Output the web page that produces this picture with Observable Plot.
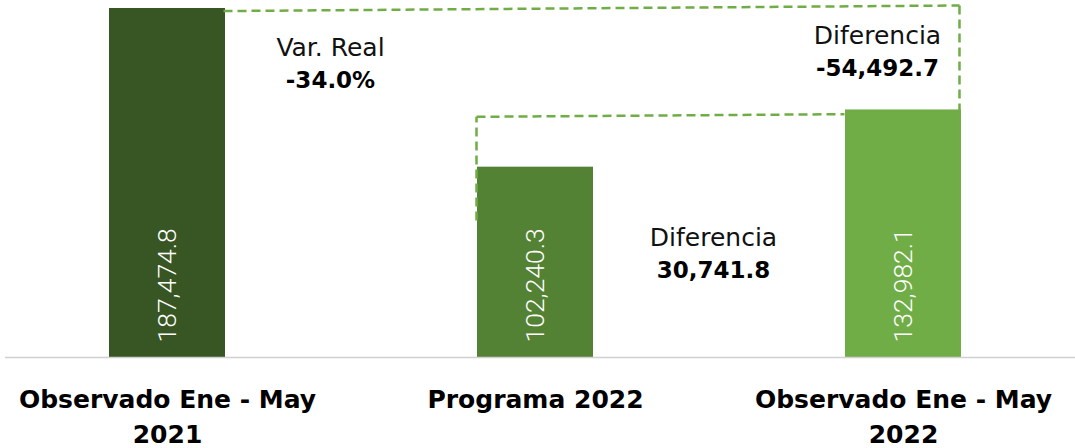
<!DOCTYPE html>
<html><head><meta charset="utf-8">
<script src="https://cdn.jsdelivr.net/npm/d3@7"></script>
<script src="https://cdn.jsdelivr.net/npm/@observablehq/plot@0.6"></script>
<style>
body{margin:0;background:#fff;}
#chart svg{display:block;}
</style>
</head><body><div id="chart"></div>
<script>
// ---- data ----
const categories = ["Observado Ene - May 2021", "Programa 2022", "Observado Ene - May 2022"];
const axisLabels = ["Observado Ene - May\n2021", "Programa 2022", "Observado Ene - May\n2022"];
const values = [187474.8, 102240.3, 132982.1];
const valueLabels = ["187,474.8", "102,240.3", "132,982.1"];
const barColors = ["#375623", "#548235", "#70ad47"];

// dashed connectors (y in data units)
const connRightFrom = [categories[0], categories[2]];
const connRightTo   = [categories[2], categories[2]];
const connRightY1   = [186100, 189100];
const connRightY2   = [189100, 132982.1];

const connLeftFrom = [categories[1], categories[1]];
const connLeftTo   = [categories[1], categories[2]];
const connLeftY1   = [73600, 129300];
const connLeftY2   = [129300, 130700];

// annotations
const annoTitles  = ["Var. Real", "Diferencia", "Diferencia"];
const annoValues  = ["-34.0%", "-54,492.7", "30,741.8"];
const annoAnchors = [categories[0], categories[2], categories[1]];
const annoY       = [166500, 172970, 64460];

// ---- build tables ----
const bars = categories.map((c, i) => ({cat: c, value: values[i], label: valueLabels[i], color: barColors[i], axis: axisLabels[i]}));
const connRight = connRightFrom.map((c, i) => ({x1: c, x2: connRightTo[i], y1: connRightY1[i], y2: connRightY2[i]}));
const connLeft = connLeftFrom.map((c, i) => ({x1: c, x2: connLeftTo[i], y1: connLeftY1[i], y2: connLeftY2[i]}));
const annos = annoTitles.map((t, i) => ({title: t, value: annoValues[i], cat: annoAnchors[i], y: annoY[i]}));
const annoDx = [163, -26, 178];

const dashStyle = {stroke: "#70ad47", strokeWidth: 2.5, strokeDasharray: "9,5"};

const chart = Plot.plot({
  width: 1075,
  height: 448,
  marginTop: 8,
  marginBottom: 91,
  marginLeft: 0,
  marginRight: 5,
  x: {domain: categories, paddingInner: 0.685, paddingOuter: 0.296, axis: null},
  y: {domain: [0, d3.max(values)], axis: null},
  marks: [
    Plot.barY(bars, {x: "cat", y: "value", fill: "color"}),
    Plot.ruleY([0], {stroke: "#d0d0d0", strokeWidth: 1.5, dx: 5}),
    Plot.text(bars, {x: "cat", y: 0, text: "label", rotate: -90, textAnchor: "start", dy: -15,
      fill: "white", fontSize: 26.5, fontWeight: 300, fontFamily: "Roboto"}),
    Plot.link(connRight, {x1: "x1", x2: "x2", y1: "y1", y2: "y2", dx: 56, ...dashStyle}),
    Plot.link(connLeft, {x1: "x1", x2: "x2", y1: "y1", y2: "y2", dx: -59, ...dashStyle}),
    ...annos.map((a, i) => Plot.text([a], {x: "cat", y: "y", text: "title", dx: annoDx[i],
      fill: "#111", fontSize: 25, fontFamily: "DejaVu Sans", textAnchor: "middle"})),
    ...annos.map((a, i) => Plot.text([a], {x: "cat", y: "y", text: "value", dx: annoDx[i], dy: 33,
      fill: "#000", fontSize: 23, fontWeight: "bold", fontFamily: "DejaVu Sans", textAnchor: "middle"})),
    Plot.text(bars, {x: "cat", y: 0, text: "axis", lineAnchor: "top", dy: 26, lineHeight: 1.4,
      fill: "#000", fontSize: 25, fontWeight: "bold", fontFamily: "DejaVu Sans", textAnchor: "middle"})
  ]
});
document.getElementById("chart").appendChild(chart);
</script>
</body></html>
